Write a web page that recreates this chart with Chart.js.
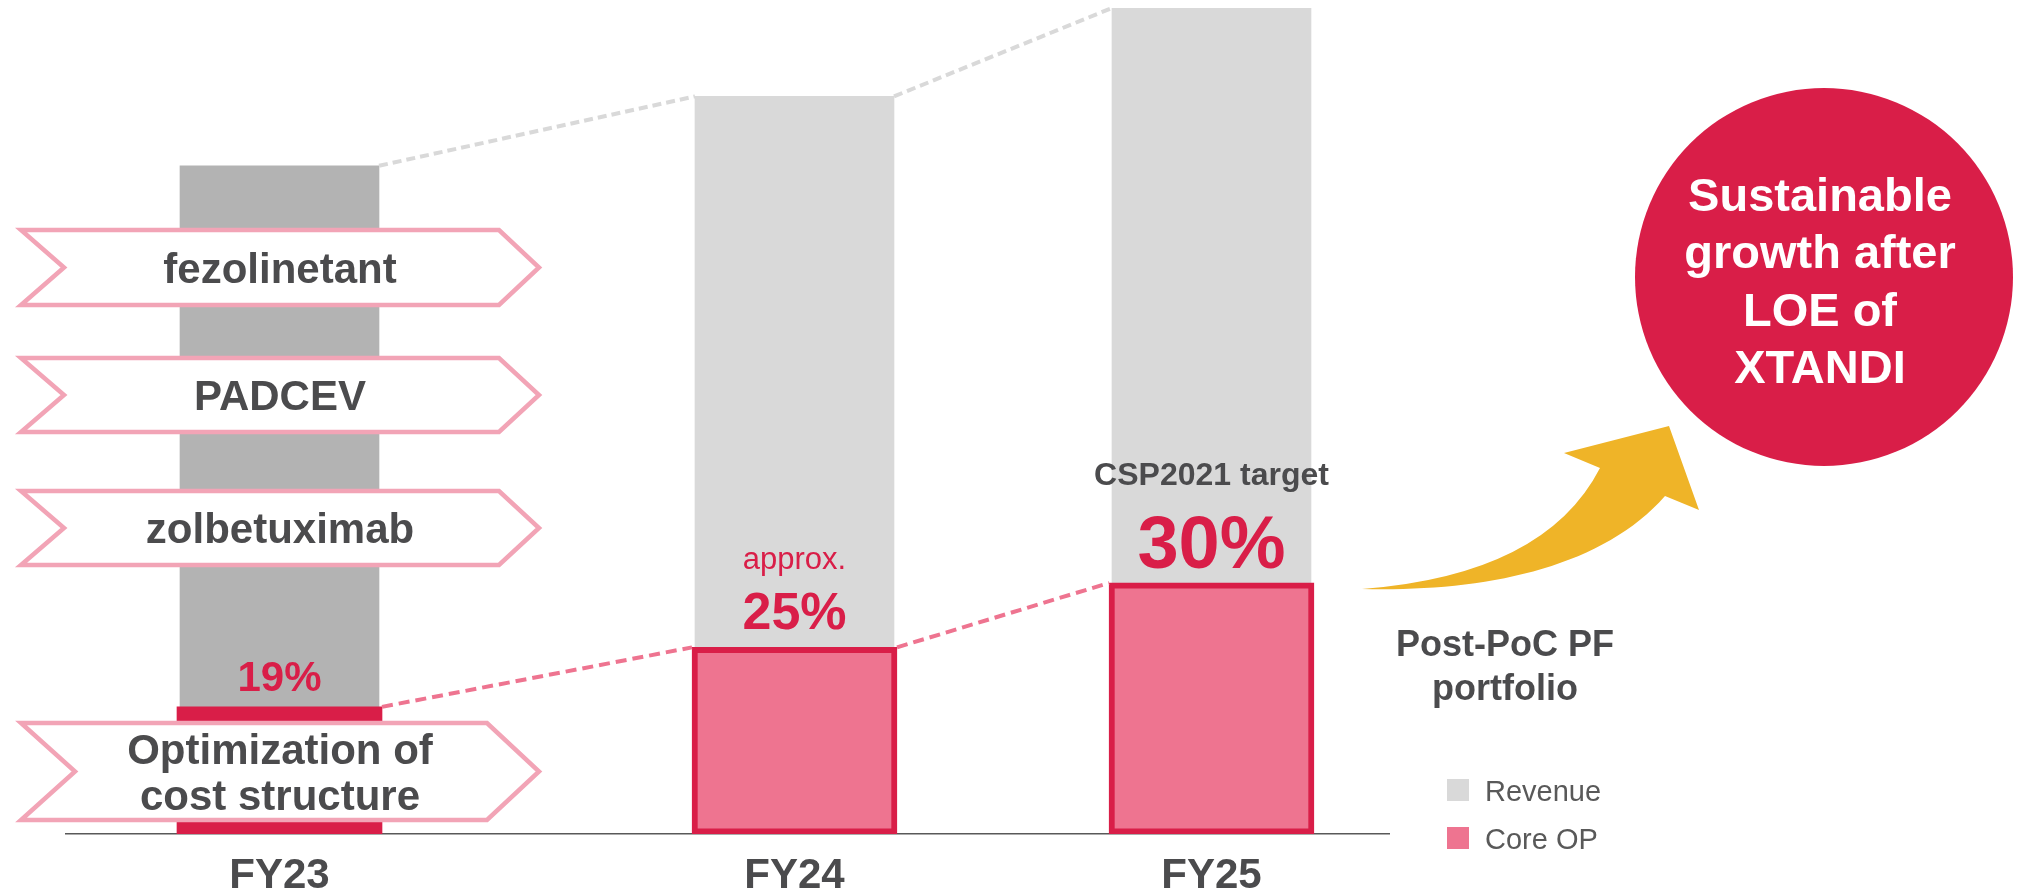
<!DOCTYPE html>
<html>
<head>
<meta charset="utf-8">
<title>Revenue and Core OP outlook</title>
<script src="https://cdn.jsdelivr.net/npm/chart.js@4.4.0/dist/chart.umd.min.js"></script>
<style>
    html, body { margin: 0; padding: 0; background: #fff; }
    #wrap { width: 2022px; height: 892px; }
</style>
</head>
<body>
<div id="wrap"><canvas id="chart" width="2022" height="892"></canvas></div>
<script>
// Chart data (revenue as an index, FY25 = 100)
const categories = ['FY23', 'FY24', 'FY25'];
const revenue = [80.9, 89.3, 100];
const coreOP = [15.4, 22.6, 30.4];
const marginLabels = ['19%', '25%', '30%'];
const marginNotes = ['', 'approx.', 'CSP2021 target'];
const initiatives = ['fezolinetant', 'PADCEV', 'zolbetuximab', 'Optimization of\ncost structure'];

// Layout / style
const FONT = "'Liberation Sans', Arial, sans-serif";
const CRIMSON = '#d91e48';
const PINK = '#ee7490';
const LIGHT_GRAY = '#d9d9d9';
const TEXT_GRAY = '#4b4b4d';
const slotX = [213.5, 728.5, 1145.5];   // uneven spacing of the three years on the axis

// Chevron boxes on the left: top, bottom, notch x, shoulder x
const chevrons = [
    { top: 230, bottom: 305, notch: 64, shoulder: 499 },
    { top: 358, bottom: 432, notch: 64, shoulder: 499 },
    { top: 491, bottom: 565, notch: 64, shoulder: 499 },
    { top: 723, bottom: 820, notch: 75, shoulder: 487 }
];

function drawChevron(ctx, c) {
    const left = 21, tip = 539, mid = (c.top + c.bottom) / 2;
    ctx.beginPath();
    ctx.moveTo(left, c.top);
    ctx.lineTo(c.shoulder, c.top);
    ctx.lineTo(tip, mid);
    ctx.lineTo(c.shoulder, c.bottom);
    ctx.lineTo(left, c.bottom);
    ctx.lineTo(c.notch, mid);
    ctx.closePath();
    ctx.fillStyle = '#fff';
    ctx.fill();
    ctx.lineWidth = 4.5;
    ctx.strokeStyle = '#f2a4b6';
    ctx.lineJoin = 'miter';
    ctx.stroke();
}

function dashedLinks(ctx, bars, color, dash) {
    ctx.save();
    ctx.strokeStyle = color;
    ctx.lineWidth = 4;
    ctx.setLineDash(dash);
    for (let i = 0; i < bars.length - 1; i++) {
        const a = bars[i], b = bars[i + 1];
        ctx.beginPath();
        ctx.moveTo(a.x + a.width / 2, a.y);
        ctx.lineTo(b.x - b.width / 2, b.y);
        ctx.stroke();
    }
    ctx.restore();
}

const overlayPlugin = {
    id: 'overlay',
    afterDraw(chart) {
        const ctx = chart.ctx;
        const revBars = chart.getDatasetMeta(0).data;
        const opBars = chart.getDatasetMeta(1).data;

        dashedLinks(ctx, revBars, LIGHT_GRAY, [9, 5]);
        dashedLinks(ctx, opBars, PINK, [11, 6]);

        // chevrons with initiative names
        ctx.save();
        ctx.textAlign = 'center';
        ctx.textBaseline = 'alphabetic';
        ctx.font = 'bold 42px ' + FONT;
        chevrons.forEach((c, i) => {
            drawChevron(ctx, c);
            ctx.fillStyle = TEXT_GRAY;
            const lines = initiatives[i].split('\n');
            const mid = (c.top + c.bottom) / 2;
            lines.forEach((line, j) => {
                const y = mid + 15 + (j - (lines.length - 1) / 2) * 46;
                ctx.fillText(line, 280, y);
            });
        });
        ctx.restore();

        // margin labels above the Core OP bars
        ctx.save();
        ctx.textAlign = 'center';
        ctx.textBaseline = 'alphabetic';
        const pctSize = [42, 52, 74];
        const pctGap = [16, 18, 15];
        opBars.forEach((bar, i) => {
            const y = bar.y - pctGap[i];
            ctx.fillStyle = CRIMSON;
            ctx.font = 'bold ' + pctSize[i] + 'px ' + FONT;
            ctx.fillText(marginLabels[i], bar.x, y);
            if (i === 1) {
                ctx.font = '31px ' + FONT;
                ctx.fillText(marginNotes[i], bar.x, y - 60);
            } else if (i === 2) {
                ctx.fillStyle = TEXT_GRAY;
                ctx.font = 'bold 32px ' + FONT;
                ctx.fillText(marginNotes[i], bar.x, y - 83);
            }
        });
        ctx.restore();

        // growth arrow
        ctx.save();
        ctx.beginPath();
        ctx.moveTo(1362, 589);
        ctx.quadraticCurveTo(1545, 575, 1600, 468);
        ctx.lineTo(1564, 453);
        ctx.lineTo(1669, 426);
        ctx.lineTo(1699, 510);
        ctx.lineTo(1665, 496);
        ctx.bezierCurveTo(1600, 570, 1480, 592, 1362, 589);
        ctx.closePath();
        ctx.fillStyle = '#efb428';
        ctx.fill();

        // goal circle
        ctx.beginPath();
        ctx.arc(1824, 277, 189, 0, Math.PI * 2);
        ctx.fillStyle = CRIMSON;
        ctx.fill();
        ctx.fillStyle = '#fff';
        ctx.textAlign = 'center';
        ctx.font = 'bold 47px ' + FONT;
        ['Sustainable', 'growth after', 'LOE of', 'XTANDI'].forEach((t, i) => {
            ctx.fillText(t, 1820, 211 + i * 57.3);
        });

        // portfolio note
        ctx.fillStyle = TEXT_GRAY;
        ctx.font = 'bold 36px ' + FONT;
        ctx.fillText('Post-PoC PF', 1505, 656);
        ctx.fillText('portfolio', 1505, 700);

        // legend
        const legendColors = [LIGHT_GRAY, PINK];
        ctx.textAlign = 'left';
        ctx.font = '29px ' + FONT;
        chart.data.datasets.forEach((ds, i) => {
            const y = 779 + i * 48;
            ctx.fillStyle = legendColors[i];
            ctx.fillRect(1447, y, 22, 22);
            ctx.fillStyle = '#595959';
            ctx.fillText(ds.label, 1485, y + 22);
        });
        ctx.restore();
    }
};

const ctx = document.getElementById('chart').getContext('2d');
new Chart(ctx, {
    type: 'bar',
    data: {
        datasets: [{
            label: 'Revenue',
            data: revenue.map((v, i) => ({ x: slotX[i], y: v })),
            backgroundColor: ['#b3b3b3', LIGHT_GRAY, LIGHT_GRAY],
            barThickness: 199,
            grouped: false,
            order: 2
        }, {
            label: 'Core OP',
            data: coreOP.map((v, i) => ({ x: slotX[i], y: v })),
            backgroundColor: [CRIMSON, PINK, PINK],
            borderColor: CRIMSON,
            borderWidth: [0, 6, 6],
            borderSkipped: false,
            barThickness: 205,
            grouped: false,
            order: 1
        }]
    },
    options: {
        responsive: false,
        devicePixelRatio: 1,
        animation: false,
        // tick padding is counted twice in the axis height, hence the negative bottom
        layout: { padding: { left: 66, right: 633, top: 8, bottom: -26 } },
        plugins: {
            legend: { display: false },
            tooltip: { enabled: false }
        },
        scales: {
            x: {
                type: 'linear',
                min: 0,
                max: 1323,
                offset: false,
                z: 1,
                grid: { display: false, drawTicks: false },
                border: { display: true, color: '#595959', width: 1.5 },
                afterBuildTicks: (scale) => {
                    scale.ticks = slotX.map(v => ({ value: v }));
                },
                ticks: {
                    autoSkip: false,
                    maxRotation: 0,
                    padding: 26,
                    color: TEXT_GRAY,
                    font: { family: FONT, size: 42, weight: 'bold', lineHeight: 0.76 },
                    callback: (value, index) => categories[index]
                }
            },
            y: {
                display: false,
                min: 0,
                max: 100
            }
        }
    },
    plugins: [overlayPlugin]
});
</script>
</body>
</html>
